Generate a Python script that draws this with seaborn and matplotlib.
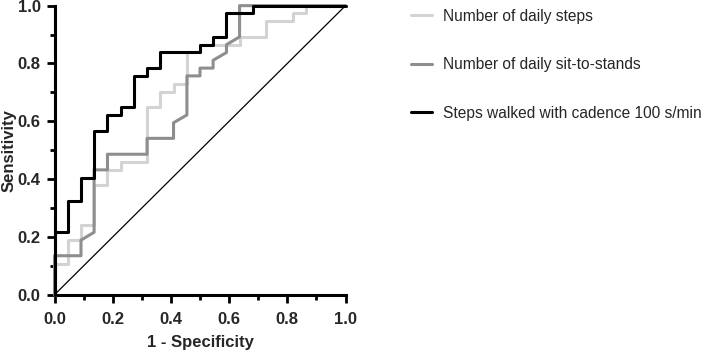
import matplotlib
matplotlib.use("Agg")
import matplotlib.pyplot as plt
import numpy as np
import pandas as pd
import seaborn as sns
from matplotlib.ticker import MultipleLocator

sns.set_theme(style="ticks")
plt.rcParams["font.family"] = ["Liberation Sans", "DejaVu Sans"]

# ---------------------------------------------------------------------------
# ROC curve points (1 - specificity, sensitivity)
# ---------------------------------------------------------------------------
steps_fpr = [0.0, 0.0, 0.045, 0.045, 0.091, 0.091, 0.136, 0.136, 0.182, 0.182,
             0.227, 0.227, 0.318, 0.318, 0.364, 0.364, 0.409, 0.409, 0.455,
             0.455, 0.5, 0.5, 0.636, 0.636, 0.727, 0.727, 0.818, 0.818, 0.864,
             0.864, 1.0]
steps_tpr = [0.0, 0.108, 0.108, 0.189, 0.189, 0.243, 0.243, 0.378, 0.378, 0.432,
             0.432, 0.459, 0.459, 0.649, 0.649, 0.703, 0.703, 0.730, 0.730,
             0.838, 0.838, 0.865, 0.865, 0.892, 0.892, 0.946, 0.946, 0.973,
             0.973, 1.0, 1.0]

sts_fpr = [0.0, 0.0, 0.091, 0.091, 0.136, 0.136, 0.182, 0.182, 0.318, 0.318,
           0.409, 0.409, 0.455, 0.455, 0.5, 0.5, 0.545, 0.545, 0.591, 0.591,
           0.636, 0.636, 1.0]
sts_tpr = [0.0, 0.135, 0.135, 0.189, 0.216, 0.432, 0.432, 0.486, 0.486, 0.541,
           0.541, 0.595, 0.622, 0.757, 0.757, 0.784, 0.784, 0.811, 0.838, 0.865,
           0.892, 1.0, 1.0]

cad_fpr = [0.0, 0.0, 0.045, 0.045, 0.091, 0.091, 0.136, 0.136, 0.182, 0.182,
           0.227, 0.227, 0.273, 0.273, 0.318, 0.318, 0.364, 0.364, 0.5, 0.5,
           0.545, 0.545, 0.591, 0.591, 0.682, 0.682, 1.0]
cad_tpr = [0.0, 0.216, 0.216, 0.324, 0.324, 0.405, 0.405, 0.568, 0.568, 0.622,
           0.622, 0.649, 0.649, 0.757, 0.757, 0.784, 0.784, 0.838, 0.838, 0.865,
           0.865, 0.892, 0.892, 0.973, 0.973, 1.0, 1.0]

labels = ["Number of daily steps",
          "Number of daily sit-to-stands",
          "Steps walked with cadence 100 s/min"]
colors = ["#d3d3d3", "#8e8e8e", "#000000"]

df = pd.concat([
    pd.DataFrame({"fpr": steps_fpr, "tpr": steps_tpr, "curve": labels[0]}),
    pd.DataFrame({"fpr": sts_fpr, "tpr": sts_tpr, "curve": labels[1]}),
    pd.DataFrame({"fpr": cad_fpr, "tpr": cad_tpr, "curve": labels[2]}),
], ignore_index=True)

# ---------------------------------------------------------------------------
# Figure
# ---------------------------------------------------------------------------
fig = plt.figure(figsize=(7.08, 3.53), dpi=100)
ax = fig.add_axes([0.077, 0.165, 0.411, 0.819])

ax.plot([0, 1], [0, 1], color="black", linewidth=0.9, zorder=1)

sns.lineplot(data=df, x="fpr", y="tpr", hue="curve", hue_order=labels,
             palette=colors, sort=False, estimator=None, linewidth=2.2,
             ax=ax, clip_on=False, zorder=3)

ax.set_xlim(0, 1)
ax.set_ylim(0, 1)
ax.xaxis.set_major_locator(MultipleLocator(0.2))
ax.xaxis.set_minor_locator(MultipleLocator(0.1))
ax.yaxis.set_major_locator(MultipleLocator(0.2))
ax.yaxis.set_minor_locator(MultipleLocator(0.1))
ax.set_xticklabels([f"{v:.1f}" for v in ax.get_xticks()])
ax.set_yticklabels([f"{v:.1f}" for v in ax.get_yticks()])

sns.despine(ax=ax)
for side in ["left", "bottom"]:
    ax.spines[side].set_linewidth(2.2)
    ax.spines[side].set_color("black")
ax.tick_params(which="major", length=6, width=2, color="black",
               labelsize=12, pad=4)
ax.tick_params(axis="x", which="major", pad=6.5)
ax.tick_params(which="minor", length=3.5, width=2, color="black")
for lbl in ax.get_xticklabels() + ax.get_yticklabels():
    lbl.set_fontweight("bold")

ax.set_xlabel("1 - Specificity", fontsize=12, fontweight="bold", labelpad=6)
ax.set_ylabel("Sensitivity", fontsize=12, fontweight="bold", labelpad=0.5)

handles, lbls = ax.get_legend_handles_labels()
ax.get_legend().remove()
fig.legend(handles, lbls, loc="upper left", bbox_to_anchor=(0.58, 0.975),
           frameon=False, fontsize=11.2, labelspacing=2.15, handlelength=1.35,
           handletextpad=0.7, borderpad=0, borderaxespad=0)

fig.savefig("out.png", dpi=100)
